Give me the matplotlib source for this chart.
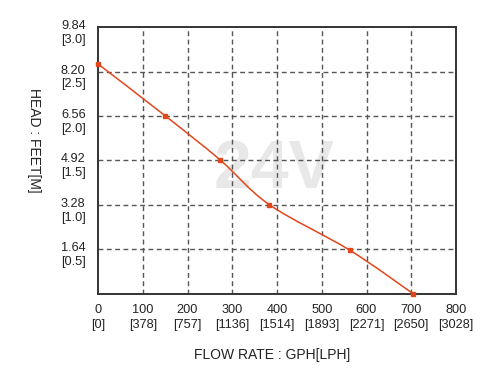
import matplotlib
matplotlib.use("Agg")
import matplotlib.pyplot as plt
from matplotlib.path import Path
from matplotlib.patches import PathPatch
import matplotlib.transforms as mtransforms

plt.rcParams['font.family'] = ['Liberation Sans', 'DejaVu Sans']

flow_gph = [0, 150, 273, 383, 563, 705]
head_ft = [8.48, 6.57, 4.94, 3.29, 1.61, 0.0]

x_ticks = [0, 100, 200, 300, 400, 500, 600, 700, 800]
x_labels = ["0\n[0]", "100\n[378]", "200\n[757]", "300\n[1136]", "400\n[1514]",
            "500\n[1893]", "600\n[2271]", "700\n[2650]", "800\n[3028]"]
y_ticks = [1.64, 3.28, 4.92, 6.56, 8.20, 9.84]
y_labels = ["1.64\n[0.5]", "3.28\n[1.0]", "4.92\n[1.5]", "6.56\n[2.0]", "8.20\n[2.5]", "9.84\n[3.0]"]

line_color = "#e2471c"

fig = plt.figure(figsize=(5, 3.69), dpi=100)
ax = fig.add_axes([0.196, 0.2033, 0.716, 0.7235])
ax.set_xlim(0, 800)
ax.set_ylim(0, 9.84)

# smooth curve through the points (Catmull-Rom as cubic Bezier)
pts = list(zip(flow_gph, head_ft))
n = len(pts)
verts = [pts[0]]
codes = [Path.MOVETO]
for i in range(n - 1):
    p0 = pts[i - 1] if i > 0 else pts[i]
    p1 = pts[i]
    p2 = pts[i + 1]
    p3 = pts[i + 2] if i + 2 < n else pts[i + 1]
    c1 = (p1[0] + (p2[0] - p0[0]) / 6, p1[1] + (p2[1] - p0[1]) / 6)
    c2 = (p2[0] - (p3[0] - p1[0]) / 6, p2[1] - (p3[1] - p1[1]) / 6)
    verts += [c1, c2, p2]
    codes += [Path.CURVE4] * 3
ax.add_patch(PathPatch(Path(verts, codes), facecolor='none', edgecolor=line_color,
                       lw=1.1, zorder=4, clip_on=False))
ax.plot(flow_gph, head_ft, ls='none', marker='s', ms=3.5, color=line_color,
        zorder=5, clip_on=False)

# watermark
ax.text(0.493, 0.489, "24V", transform=ax.transAxes, fontsize=49, fontweight='bold',
        color='#e8e8e8', ha='center', va='center_baseline', zorder=0,
        family=['Liberation Sans', 'DejaVu Sans'])

ax.set_xticks(x_ticks)
ax.set_xticklabels(x_labels, fontsize=9.2, color='#222222', linespacing=1.42)
ax.set_yticks(y_ticks)
ax.set_yticklabels(y_labels, fontsize=9.2, color='#222222', linespacing=1.22, ha='right')
ax.tick_params(axis='x', length=0, pad=7)
ax.tick_params(axis='y', length=0, pad=9)

offset = mtransforms.ScaledTranslation(0, -3.5 / 100, fig.dpi_scale_trans)
for lab in ax.get_yticklabels():
    lab.set_transform(lab.get_transform() + offset)

for v in x_ticks[1:-1]:
    ax.axvline(v, color='#555555', lw=1.0, ls=(0, (3.5, 2.5)), zorder=1)
for v in y_ticks[:-1]:
    ax.axhline(v, color='#555555', lw=1.0, ls=(0, (3.5, 2.5)), zorder=1)

for s in ax.spines.values():
    s.set_color('#333333')
    s.set_linewidth(1.4)

fig.text(0.545, 0.038, "FLOW RATE : GPH[LPH]", fontsize=10, ha='center', va='center', color='#222222')
fig.text(0.068, 0.62, "HEAD : FEET[M]", fontsize=10, ha='center', va='center',
         rotation=270, color='#222222')

fig.savefig("out.png", dpi=100)
